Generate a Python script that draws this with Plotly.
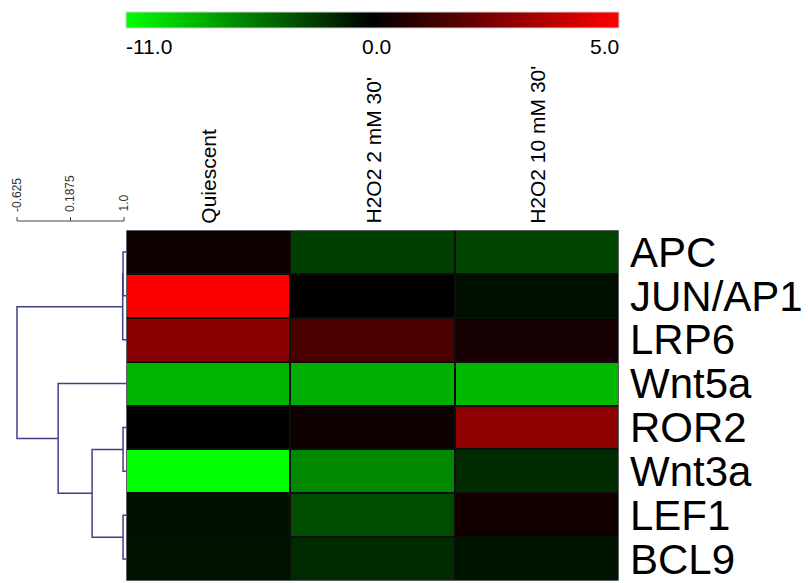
import numpy as np
import plotly.graph_objects as go

# Expression data (log ratios); rows are genes, columns are conditions
GENES = ["APC", "JUN/AP1", "LRP6", "Wnt5a", "ROR2", "Wnt3a", "LEF1", "BCL9"]
CONDITIONS = ["Quiescent", "H2O2 2 mM 30'", "H2O2 10 mM 30'"]
QUIESCENT = [0.3, 4.9, 2.7, -7.7, 0.05, -11.0, -0.75, -0.8]
H2O2_2MM = [-2.7, 0.05, 1.45, -7.6, 0.25, -5.9, -3.3, -1.8]
H2O2_10MM = [-3.0, -0.7, 0.4, -7.9, 2.75, -1.8, 0.35, -0.9]

# Colour scale anchors (green - black - red)
SCALE_MIN, SCALE_MID, SCALE_MAX = -11.0, 0.0, 5.0
SCALE_LABELS = ["-11.0", "0.0", "5.0"]

# Gene tree: (child a, child b, correlation at merge); leaves are 0..7
LINKAGE = [
    (0, 1, 0.985),
    (8, 2, 0.98),
    (4, 5, 0.985),
    (6, 7, 0.985),
    (10, 11, 0.515),
    (3, 12, 0.0),
    (9, 13, -0.625),
]
TREE_TICKS = [-0.625, 0.1875, 1.0]
TREE_TICK_LABELS = ["-0.625", "0.1875", "1.0"]

W, H = 808, 583
FONT = "Liberation Sans, Arial, sans-serif"


def px_x(p):
    return p / W


def px_y(p):
    return 1 - p / H


values = np.array([QUIESCENT, H2O2_2MM, H2O2_10MM]).T  # genes x conditions
# two-sided normalisation so that the midpoint of the bar is zero
norm = np.where(values < SCALE_MID,
                values / abs(SCALE_MIN - SCALE_MID),
                values / abs(SCALE_MAX - SCALE_MID))

fig = go.Figure()

fig.add_trace(go.Heatmap(
    z=norm,
    x=list(range(len(CONDITIONS))),
    y=list(range(len(GENES))),
    zmin=-1, zmax=1,
    colorscale=[[0.0, "#00ff00"], [0.5, "#000000"], [1.0, "#ff0000"]],
    xgap=2, ygap=2,
    customdata=values,
    hovertemplate="%{customdata:.2f}<extra></extra>",
    colorbar=dict(
        orientation="h",
        x=px_x((126 + 619) / 2), xanchor="center",
        y=px_y(12), yanchor="top",
        len=493 / W, lenmode="fraction",
        thickness=16, thicknessmode="pixels",
        xpad=0, ypad=0,
        outlinewidth=1, outlinecolor="#cfcfcf",
        showticklabels=False, ticks="",
    ),
))

# Dendrogram built from the linkage table
leaf_x = 1.03
pos = {i: (leaf_x, float(i)) for i in range(len(GENES))}
xs, ys = [], []
for k, (a, b, h) in enumerate(LINKAGE):
    xa, ya = pos[a]
    xb, yb = pos[b]
    xs += [xa, h, h, xb, None]
    ys += [ya, ya, yb, yb, None]
    pos[len(GENES) + k] = (h, (ya + yb) / 2)

fig.add_trace(go.Scatter(
    x=xs, y=ys, xaxis="x2", yaxis="y", mode="lines",
    line=dict(color="#40408a", width=1.5), hoverinfo="skip", showlegend=False,
))

shapes = [
    dict(type="rect", xref="x", yref="y", x0=-0.5, x1=2.5, y0=-0.5, y1=7.5,
         fillcolor="#0d0d0d", line=dict(width=0), layer="below"),
    dict(type="rect", xref="x", yref="y", x0=-0.5, x1=2.5, y0=-0.5, y1=7.5,
         line=dict(color="#b4b4c4", width=1), layer="above"),
    dict(type="line", xref="x2", yref="paper", x0=TREE_TICKS[0], x1=TREE_TICKS[-1],
         y0=px_y(221), y1=px_y(221), line=dict(color="#444444", width=1)),
]
for t in TREE_TICKS:
    shapes.append(dict(type="line", xref="x2", yref="paper", x0=t, x1=t,
                       y0=px_y(221), y1=px_y(217), line=dict(color="#444444", width=1)))

annotations = []
# colour bar labels
annotations.append(dict(text=SCALE_LABELS[0], xref="paper", yref="paper",
                        x=px_x(124), y=px_y(46), xanchor="left", yanchor="middle",
                        showarrow=False, font=dict(family=FONT, size=21, color="black")))
annotations.append(dict(text=SCALE_LABELS[1], xref="paper", yref="paper",
                        x=px_x(376), y=px_y(46), xanchor="center", yanchor="middle",
                        showarrow=False, font=dict(family=FONT, size=21, color="black")))
annotations.append(dict(text=SCALE_LABELS[2], xref="paper", yref="paper",
                        x=px_x(621), y=px_y(46), xanchor="right", yanchor="middle",
                        showarrow=False, font=dict(family=FONT, size=21, color="black")))
# condition labels
for i, c in enumerate(CONDITIONS):
    annotations.append(dict(text=c, xref="x", yref="paper", x=i, y=px_y(226),
                            xanchor="center", yanchor="bottom", textangle=-90,
                            showarrow=False,
                            font=dict(family=FONT, size=21, color="black")))
# tree scale labels
for t, lab in zip(TREE_TICKS, TREE_TICK_LABELS):
    annotations.append(dict(text=lab, xref="x2", yref="paper", x=t, y=px_y(214),
                            xanchor="center", yanchor="bottom", textangle=-90,
                            showarrow=False,
                            font=dict(family=FONT, size=12, color="#333333")))

fig.update_layout(
    width=W, height=H,
    margin=dict(l=0, r=0, t=0, b=0),
    paper_bgcolor="white", plot_bgcolor="white",
    showlegend=False,
    xaxis=dict(domain=[px_x(126), px_x(619)], range=[-0.5, 2.5], visible=False,
               anchor="y"),
    yaxis=dict(domain=[px_y(581), px_y(230)], range=[7.5, -0.5],
               tickvals=list(range(len(GENES))), ticktext=GENES, side="right",
               ticks="", showgrid=False, zeroline=False, showline=False,
               ticklabelstandoff=10, automargin=False,
               tickfont=dict(family=FONT, size=42, color="black"), anchor="x"),
    xaxis2=dict(domain=[0, px_x(126)], range=[-0.883, 1.03], visible=False,
                anchor="y", fixedrange=True),
    shapes=shapes,
    annotations=annotations,
)

fig.write_html("out.html")
